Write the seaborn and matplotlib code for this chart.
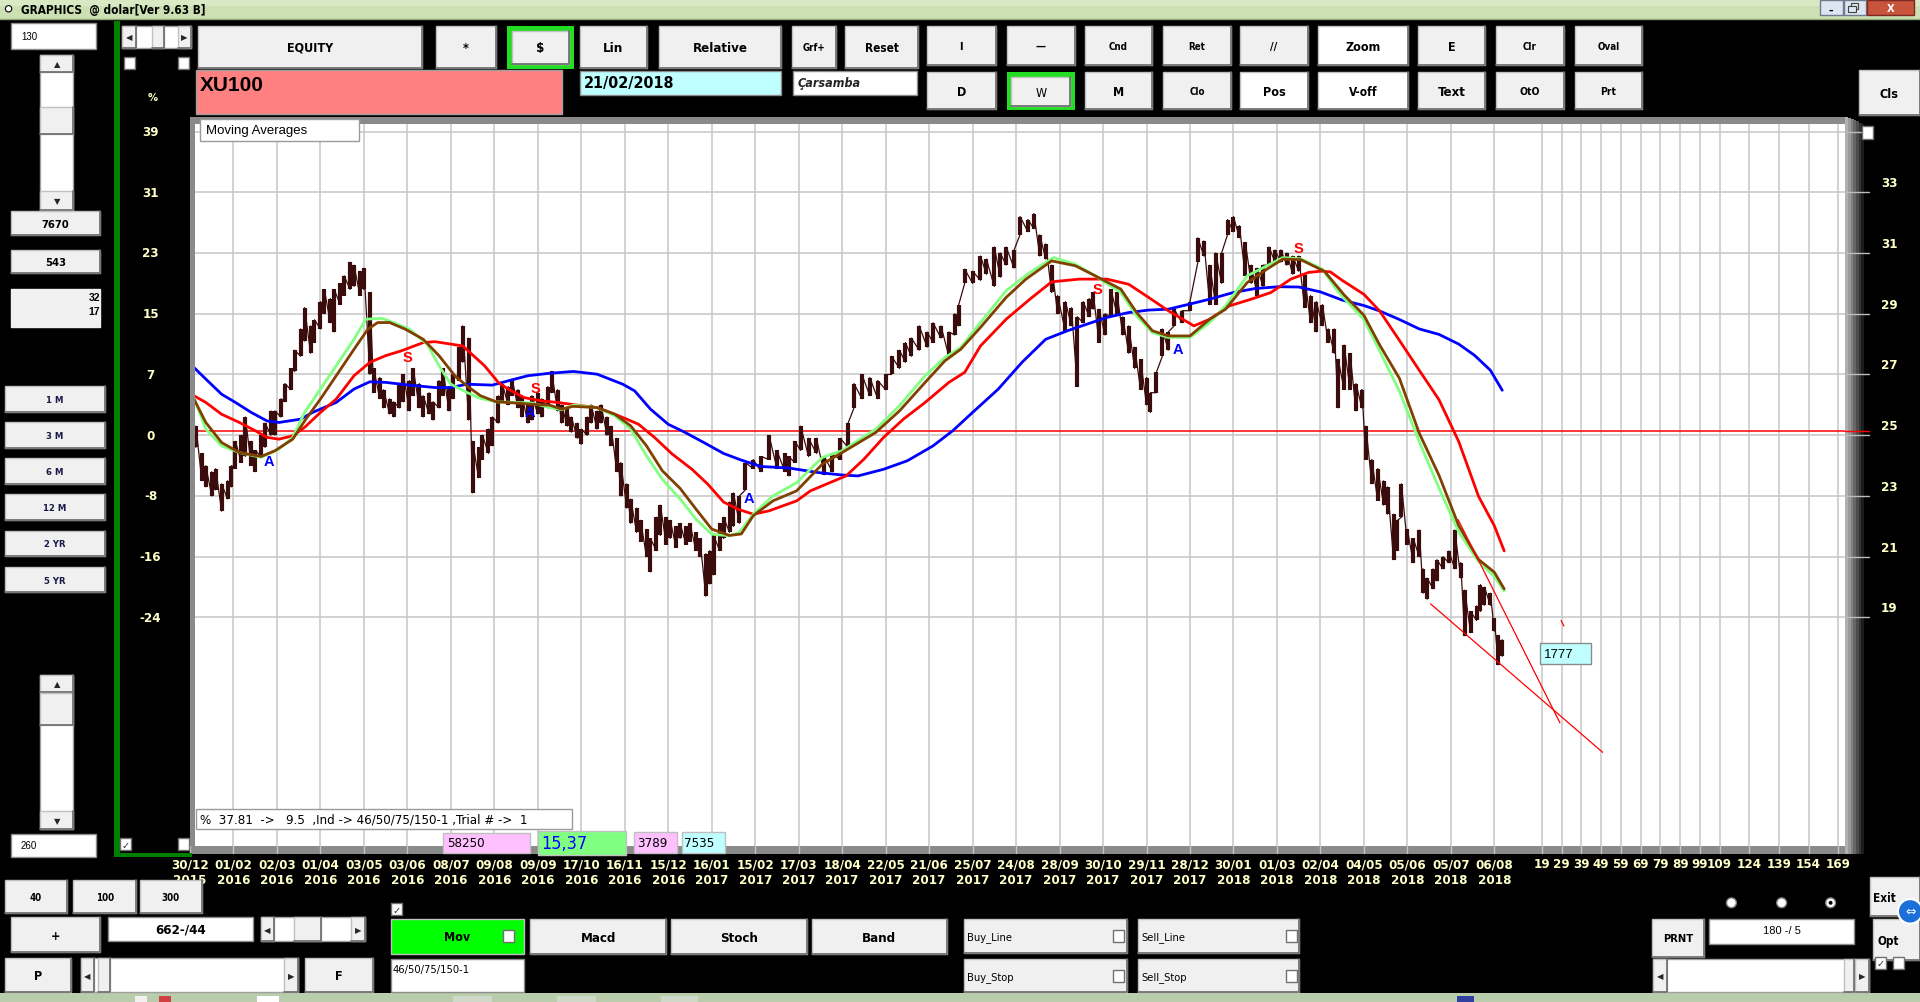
import numpy as np
import pandas as pd
import seaborn as sns
import matplotlib
matplotlib.use("Agg")
import matplotlib.pyplot as plt
from matplotlib.patches import Rectangle, Circle
from matplotlib import font_manager
from matplotlib.transforms import blended_transform_factory

sns.set_style("white")
names = {f.name for f in font_manager.fontManager.ttflist}
if "Liberation Sans Narrow" in names:
    NARROW, STRETCH = "Liberation Sans Narrow", "normal"
else:
    NARROW, STRETCH = "DejaVu Sans", "condensed"
plt.rcParams["font.family"] = ["Liberation Sans", "DejaVu Sans"]

# ---------------- data (bar index = trading day, price in USD units) ----------------
bar_idx = [0, 3, 5, 8, 10, 13, 16, 18, 20, 23, 25, 28, 30, 33, 35, 38, 40, 43, 45, 48,
           50, 53, 55, 58, 60, 63, 65, 68, 70, 73, 75, 78, 80, 83, 85, 88, 90, 93, 95, 98,
           100, 103, 105, 108, 110, 113, 115, 118, 120, 123, 125, 128, 130, 133, 135, 138, 140, 143, 145, 148,
           150, 153, 155, 158, 160, 163, 165, 168, 170, 173, 175, 178, 180, 183, 185, 188, 190, 193, 195, 198,
           200, 203, 205, 208, 210, 213, 215, 218, 220, 223, 225, 228, 230, 233, 235, 238, 240, 243, 245, 248,
           250, 253, 255, 258, 260, 262, 265, 267, 270, 272, 275, 278, 282, 286, 290, 294, 298, 300, 303, 306,
           310, 314, 318, 322, 326, 330, 333, 337, 341, 345, 349, 352, 356, 359, 362, 366, 370, 373, 377, 381,
           384, 386, 389, 393, 397, 400, 404, 407, 410, 414, 417, 421, 424, 427, 430, 433, 436, 440, 443, 446,
           449, 452, 454, 457, 460, 463, 466, 469, 472, 475, 478, 481, 483, 486, 489, 492, 495, 499, 503, 507,
           510, 513, 516, 519, 522, 525, 528, 531, 534, 537, 540, 543, 546, 549, 552, 555, 558, 561, 564, 567,
           570, 573, 576, 578, 581, 584, 587, 590, 592, 595, 598, 601, 603, 606, 608, 610, 613, 616, 619, 621,
           623, 626, 628, 631, 634, 637, 640, 642, 645, 648, 650, 652, 655, 657, 659, 661]
bar_low = [24.6, 23.5, 23.3, 23.0, 23.2, 22.5, 22.9, 23.3, 23.9, 24.1, 24.3, 24.0, 23.8, 24.3, 24.6, 25.0, 25.0, 25.6, 26.1, 26.5,
           27.1, 27.6, 28.1, 27.7, 28.05, 28.5, 29.0, 28.7, 28.4, 29.3, 29.6, 29.8, 29.9, 29.6, 29.8, 27.0, 26.4, 26.2, 25.9, 25.7,
           25.6, 25.9, 26.1, 25.8, 26.3, 25.9, 25.6, 25.7, 25.5, 25.9, 26.3, 25.8, 26.2, 26.8, 27.4, 25.5, 23.1, 23.6, 24.2, 24.4,
           24.65, 25.4, 26.1, 26.0, 26.3, 25.9, 25.6, 25.4, 25.5, 25.7, 25.6, 25.9, 26.4, 25.8, 25.4, 25.3, 25.1, 24.9, 24.7, 25.0,
           25.4, 25.2, 25.4, 25.0, 24.65, 23.8, 23.0, 22.6, 22.1, 21.8, 21.5, 21.0, 20.5, 21.2, 21.7, 21.4, 21.6, 21.3, 21.6, 21.4,
           21.5, 21.2, 21.0, 19.7, 20.1, 20.4, 21.2, 21.6, 21.8, 22.0, 22.1, 23.2, 23.9, 23.8, 24.2, 23.9, 23.8, 23.66, 24.1, 24.5,
           24.3, 24.4, 23.7, 23.8, 24.2, 24.6, 25.9, 26.2, 26.3, 26.2, 26.5, 27.0, 27.2, 27.4, 27.6, 27.8, 27.9, 28.05, 28.2, 27.6,
           28.3, 28.6, 30.0, 30.0, 30.1, 30.3, 29.9, 30.2, 30.6, 30.5, 31.6, 31.7, 31.8, 30.9, 30.8, 29.7, 29.0, 28.4, 28.6, 26.6,
           28.7, 28.9, 29.15, 28.05, 28.3, 28.9, 29.0, 28.3, 27.7, 27.2, 26.5, 26.0, 25.75, 26.4, 27.6, 27.8, 28.6, 28.7, 29.1, 30.7,
           30.9, 29.3, 29.3, 30.0, 31.6, 31.7, 31.5, 30.25, 30.0, 29.6, 29.9, 30.6, 30.7, 30.7, 30.6, 30.3, 30.4, 29.2, 28.7, 28.4,
           28.6, 28.05, 27.7, 25.9, 26.5, 26.5, 25.8, 25.9, 24.2, 23.4, 22.85, 22.7, 22.4, 20.9, 21.2, 22.3, 21.4, 20.8, 21.0, 19.8,
           19.6, 19.94, 20.2, 20.6, 20.8, 20.6, 20.3, 18.4, 18.5, 18.9, 19.2, 19.4, 19.4, 18.55, 17.44, 17.72]
bar_high = [25.3, 24.4, 24.0, 23.8, 23.9, 23.4, 23.5, 24.0, 24.8, 25.0, 25.6, 24.8, 24.5, 25.0, 25.4, 25.8, 25.8, 26.2, 26.7, 27.2,
            27.8, 28.5, 29.2, 28.6, 28.8, 29.4, 29.8, 29.5, 29.8, 30.0, 30.25, 30.7, 30.6, 30.4, 30.5, 29.7, 27.2, 26.9, 26.5, 26.2,
            26.1, 26.7, 27.0, 26.8, 27.2, 26.7, 26.3, 26.4, 26.1, 26.8, 27.2, 26.6, 27.0, 27.9, 28.6, 28.2, 24.8, 24.6, 25.0, 25.2,
            25.6, 26.3, 26.7, 26.6, 26.85, 26.5, 26.3, 26.0, 26.3, 26.4, 26.2, 26.6, 27.1, 26.5, 26.0, 25.9, 25.6, 25.4, 25.2, 25.6,
            26.0, 25.8, 26.0, 25.6, 25.3, 24.9, 24.1, 23.4, 22.9, 22.6, 22.2, 21.9, 21.6, 22.3, 22.7, 22.3, 22.2, 22.0, 22.1, 22.0,
            22.1, 21.8, 21.6, 21.1, 21.2, 21.7, 22.1, 22.3, 22.8, 23.1, 23.0, 24.1, 24.2, 24.3, 25.0, 24.5, 24.4, 24.3, 24.8, 25.3,
            24.9, 24.9, 24.3, 24.4, 24.9, 25.4, 26.7, 27.0, 26.9, 26.8, 27.0, 27.6, 27.8, 28.05, 28.2, 28.6, 28.4, 28.7, 28.6, 28.4,
            29.0, 29.3, 30.47, 30.4, 30.9, 30.8, 31.2, 31.0, 31.2, 31.1, 32.2, 32.1, 32.3, 31.6, 31.3, 30.6, 29.6, 29.4, 29.2, 28.9,
            29.4, 29.5, 29.7, 29.15, 29.0, 29.8, 29.7, 28.9, 28.6, 27.9, 27.5, 26.9, 26.4, 27.07, 28.5, 28.4, 29.15, 29.1, 29.4, 31.5,
            31.4, 30.6, 31.0, 31.0, 32.1, 32.2, 31.9, 31.35, 30.6, 30.5, 30.6, 31.2, 31.1, 31.1, 31.0, 30.9, 30.9, 30.26, 29.6, 29.4,
            29.3, 28.5, 28.5, 27.5, 27.97, 27.7, 26.7, 26.5, 25.3, 24.2, 23.9, 23.5, 23.3, 22.4, 22.2, 23.4, 21.9, 21.6, 21.88, 20.6,
            20.3, 20.6, 20.9, 21.0, 21.19, 21.88, 20.8, 19.9, 19.2, 19.38, 20.08, 20.0, 19.8, 18.97, 18.41, 18.27]

ma46_x = [-1, 5, 13, 22, 33, 42, 49, 55, 63, 71, 80, 86, 94, 100, 108, 117, 123, 129, 137, 144,
          152, 162, 170, 179, 185, 191, 203, 212, 220, 228, 236, 245, 253, 261, 270, 275, 282, 292, 304, 317,
          327, 344, 356, 369, 379, 387, 397, 410, 422, 434, 445, 455, 468, 476, 484, 492, 503, 513, 521, 532,
          542, 550, 559, 570, 577, 581, 591, 599, 609, 619, 629, 639, 649, 657, 662]
ma46_y = [26.24, 25.20, 24.65, 24.43, 24.27, 24.54, 24.93, 25.75, 26.52, 27.29, 28.16, 28.82, 28.85, 28.71, 28.49, 28.0, 27.29, 26.68, 26.41, 26.21,
          26.10, 26.08, 26.06, 25.91, 25.84, 25.99, 25.91, 25.64, 25.20, 24.32, 23.55, 22.9, 22.24, 21.74, 21.69, 21.80, 22.40, 23.0, 23.44, 24.27,
          24.49, 25.20, 25.97, 26.96, 27.56, 27.89, 28.71, 29.76, 30.36, 30.85, 30.63, 30.25, 29.70, 28.93, 28.38, 28.22, 28.22, 28.71, 29.26, 30.25,
          30.58, 30.85, 30.81, 30.47, 29.81, 29.50, 28.81, 27.77, 26.45, 24.79, 23.26, 21.81, 20.84, 20.35, 19.87]

ma50_x = [-1, 5, 13, 22, 33, 40, 49, 55, 63, 71, 80, 87, 92, 98, 106, 115, 123, 131, 137, 144,
          152, 162, 170, 179, 185, 191, 203, 212, 220, 228, 236, 245, 253, 261, 270, 276, 282, 292, 304, 317,
          327, 344, 356, 369, 379, 387, 397, 410, 420, 433, 445, 455, 468, 476, 484, 492, 503, 513, 521, 532,
          542, 550, 559, 571, 581, 591, 599, 609, 619, 629, 639, 649, 657, 662]
ma50_y = [26.19, 25.42, 24.76, 24.43, 24.30, 24.49, 24.87, 25.47, 26.19, 26.96, 27.83, 28.49, 28.71, 28.71, 28.49, 28.16, 27.62, 26.96, 26.63, 26.30,
          26.10, 26.06, 26.02, 25.99, 25.86, 25.95, 25.91, 25.69, 25.31, 24.65, 23.83, 23.25, 22.57, 21.91, 21.70, 21.75, 22.35, 22.84, 23.17, 24.05,
          24.43, 25.09, 25.80, 26.74, 27.45, 27.83, 28.55, 29.54, 30.14, 30.74, 30.58, 30.25, 29.81, 29.04, 28.44, 28.27, 28.27, 28.82, 29.15, 30.03,
          30.47, 30.80, 30.78, 30.40, 29.62, 28.95, 27.97, 26.87, 25.07, 23.68, 22.02, 20.91, 20.49, 19.94]

ma75_x = [-1, 5, 13, 22, 30, 36, 42, 49, 55, 63, 71, 80, 88, 96, 104, 115, 121, 129, 135, 146,
          153, 158, 166, 175, 183, 193, 203, 212, 218, 224, 232, 241, 251, 259, 267, 274, 282, 290, 304, 311,
          323, 329, 338, 348, 358, 369, 381, 389, 397, 410, 422, 433, 447, 461, 472, 482, 492, 505, 513, 523,
          534, 544, 554, 563, 569, 574, 580, 591, 599, 609, 619, 629, 639, 649, 657, 662]
ma75_y = [26.30, 26.08, 25.69, 25.42, 25.15, 24.93, 24.87, 24.98, 25.26, 25.75, 26.19, 26.96, 27.40, 27.62, 27.78, 28.05, 28.08, 28.0, 27.94, 27.29,
          26.74, 26.52, 26.24, 26.13, 26.08, 25.99, 25.91, 25.69, 25.53, 25.36, 24.93, 24.38, 23.88, 23.39, 22.8, 22.57, 22.40, 22.51, 22.84, 23.17,
          23.50, 23.66, 24.21, 24.93, 25.53, 26.08, 26.74, 27.07, 27.94, 28.82, 29.48, 30.05, 30.14, 30.14, 29.97, 29.54, 29.10, 28.60, 28.82, 29.26,
          29.48, 29.70, 30.14, 30.36, 30.40, 30.38, 30.10, 29.64, 29.09, 28.12, 27.14, 26.17, 24.79, 22.99, 22.02, 21.19]

ma150_x = [-1, 5, 13, 20, 28, 36, 42, 53, 59, 71, 80, 88, 96, 108, 121, 129, 137, 150, 158, 168,
           179, 191, 203, 216, 222, 230, 239, 247, 257, 267, 276, 286, 300, 315, 327, 335, 348, 360, 373, 383,
           393, 406, 418, 430, 441, 451, 461, 472, 482, 492, 503, 513, 525, 536, 548, 558, 569, 580, 591, 599,
           609, 619, 629, 639, 647, 655, 661]
ma150_y = [27.23, 26.85, 26.35, 26.08, 25.75, 25.47, 25.42, 25.53, 25.75, 26.08, 26.52, 26.76, 26.74, 26.65, 26.57, 26.57, 26.68, 26.65, 26.79, 26.96,
           27.04, 27.10, 27.01, 26.68, 26.46, 25.86, 25.36, 25.11, 24.76, 24.40, 24.18, 23.97, 23.92, 23.77, 23.69, 23.66, 23.88, 24.16, 24.65, 25.15,
           25.75, 26.52, 27.40, 28.16, 28.44, 28.66, 28.88, 29.04, 29.12, 29.15, 29.32, 29.48, 29.70, 29.83, 29.89, 29.88, 29.72, 29.45, 29.27, 29.09,
           28.81, 28.50, 28.32, 28.00, 27.63, 27.14, 26.48]

signal_bar = [37, 107, 169, 172, 280, 456, 497, 558]
signal_price = [24.15, 27.58, 25.77, 26.57, 22.93, 29.81, 27.83, 31.18]
signal_text = ["A", "S", "A", "S", "A", "S", "A", "S"]

trend1_x, trend1_y = [624.7, 711.8], [19.45, 14.56]
trend2_x, trend2_y = [638.7, 690.2], [22.22, 15.53]
trend3_x, trend3_y = [690.8, 692.2], [18.9, 18.72]
zero_level = 25.15

date_labels = ["30/12\n2015", "01/02\n2016", "02/03\n2016", "01/04\n2016", "03/05\n2016", "03/06\n2016",
               "08/07\n2016", "09/08\n2016", "09/09\n2016", "17/10\n2016", "16/11\n2016", "15/12\n2016",
               "16/01\n2017", "15/02\n2017", "17/03\n2017", "18/04\n2017", "22/05\n2017", "21/06\n2017",
               "25/07\n2017", "24/08\n2017", "28/09\n2017", "30/10\n2017", "29/11\n2017", "28/12\n2017",
               "30/01\n2018", "01/03\n2018", "02/04\n2018", "04/05\n2018", "05/06\n2018", "05/07\n2018",
               "06/08\n2018"]
date_bars = [-3, 19, 41, 63, 85, 107, 129, 151, 173, 195, 217, 239, 261, 283, 305, 327, 349, 371,
             393, 415, 437, 459, 481, 503, 525, 547, 569, 591, 613, 635, 657]
future_labels = ["19", "29", "39", "49", "59", "69", "79", "89", "99", "109", "124", "139", "154", "169"]
future_bars = [681, 691, 701, 711, 721, 731, 741, 751, 761, 771, 786, 801, 816, 831]

grid_prices = [35, 33, 31, 29, 27, 25, 23, 21, 19]
right_labels = ["", "33", "31", "29", "27", "25", "23", "21", "19"]
pct_labels = ["39", "31", "23", "15", "7", "0", "-8", "-16", "-24"]

# ---------------- figure ----------------
W, H = 1568, 819
YEL = "#ffffc8"
PRICE = "#3a0c0c"

fig = plt.figure(figsize=(19.2, 10.03), dpi=100, facecolor="black")
bg = fig.add_axes([0, 0, 1, 1], zorder=0)
bg.set_xlim(0, W); bg.set_ylim(H, 0); bg.axis("off")
bg.add_patch(Rectangle((0, 0), W, H, fc="black", ec="none"))

# plot shadow frame
bg.add_patch(Rectangle((155, 96), 1352, 602, fc="#8a8a8a", ec="none"))
for i, c in enumerate(["#b0b0b0", "#9a9a9a", "#808080", "#666666", "#4c4c4c", "#333333", "#1c1c1c"]):
    bg.add_patch(Rectangle((1507 + i * 2.2, 96 + i), 2.3, 602 - i, fc=c, ec="none"))

ax = fig.add_axes([159 / W, 1 - 691.5 / H, (1507 - 159) / W, (691.5 - 102) / H], zorder=1)
ax.set_facecolor("white")
for s in ax.spines.values():
    s.set_visible(False)
ax.set_xlim(-0.62, 834.6)
ax.set_ylim(11.48, 35.25)
ax.set_xticks([]); ax.set_yticks([])

for b in date_bars[1:] + future_bars:
    ax.axvline(b, color="#c6c6c6", lw=1.1, zorder=0)
for p in grid_prices:
    ax.axhline(p, color="#c6c6c6", lw=1.1, zorder=0)
ax.axhline(zero_level, color="red", lw=1.1, zorder=1)

# price bars
ax.vlines(bar_idx, bar_low, bar_high, color=PRICE, lw=3.0, zorder=2)
zz_x = np.repeat(bar_idx, 2)
zz_y = np.column_stack([bar_low, bar_high]).ravel()
sns.lineplot(x=zz_x, y=zz_y, sort=False, estimator=None, color=PRICE, lw=0.9, ax=ax, zorder=2)

# moving averages
for xs, ys, col in [(ma150_x, ma150_y, "#0000ff"), (ma75_x, ma75_y, "#ff0000"),
                    (ma46_x, ma46_y, "#80ff80"), (ma50_x, ma50_y, "#804000")]:
    sns.lineplot(x=xs, y=ys, color=col, lw=2.0, ax=ax, zorder=3)

for xs, ys in [(trend1_x, trend1_y), (trend2_x, trend2_y), (trend3_x, trend3_y)]:
    sns.lineplot(x=xs, y=ys, color="red", lw=0.9, ax=ax, zorder=3)

for b, p, t in zip(signal_bar, signal_price, signal_text):
    ax.text(b, p, t, color="#0000ff" if t == "A" else "#ff0000", fontsize=10.5, fontweight="bold",
            ha="center", va="center", zorder=4)

# ---------------- overlay UI ----------------
ov = fig.add_axes([0, 0, 1, 1], zorder=2)
ov.set_xlim(0, W); ov.set_ylim(H, 0); ov.axis("off")
ov.patch.set_alpha(0)

def txt(x, y, s, fs=8, bold=True, color="black", ha="center", narrow=True, z=7, **kw):
    ov.text(x, y, s, fontsize=fs, fontweight="bold" if bold else "normal", color=color,
            ha=ha, va="center", family=NARROW if narrow else "Liberation Sans",
            fontstretch=STRETCH if narrow else "normal", zorder=z, **kw)

def box(x0, y0, x1, y1, fc="white", ec="#8c8c8c", z=5):
    ov.add_patch(Rectangle((x0, y0), x1 - x0, y1 - y0, fc=fc, ec=ec, lw=1, zorder=z))

def btn(x0, y0, x1, y1, label="", fs=8, fc="#f0f0f0", color="black", bold=True, ha="center", z=5):
    box(x0, y0, x1, y1, fc=fc, ec="#c0c0c0", z=z)
    ov.plot([x0, x1, x1], [y1, y1, y0], color="#6a6a6a", lw=1.2, zorder=z)
    if label:
        tx = (x0 + x1) / 2 if ha == "center" else x0 + 3
        txt(tx, (y0 + y1) / 2 + 0.5, label, fs=fs, color=color, bold=bold, ha=ha, z=z + 1)

def check(x0, y0, checked=False, z=6):
    box(x0, y0, x0 + 9, y0 + 10, fc="white", ec="#707070", z=z)
    if checked:
        ov.text(x0 + 4.5, y0 + 5.5, "\u2713", fontsize=7, ha="center", va="center",
                family="DejaVu Sans", fontweight="bold", zorder=z + 1)

def arrow_glyph(x, y, g, fs=6):
    ov.text(x, y, g, fontsize=fs, ha="center", va="center", family="DejaVu Sans", zorder=8)

def vscroll(x0, y0, x1, y1, thumb):
    box(x0, y0, x1, y1, fc="white", ec="#a0a0a0")
    btn(x0, y0, x1, y0 + 14)
    arrow_glyph((x0 + x1) / 2, y0 + 7, "\u25b2")
    btn(x0, y1 - 15, x1, y1)
    arrow_glyph((x0 + x1) / 2, y1 - 7.5, "\u25bc")
    btn(x0, thumb[0], x1, thumb[1])

def hscroll(x0, y0, x1, y1, thumb):
    box(x0, y0, x1, y1, fc="white", ec="#a0a0a0")
    btn(x0, y0, x0 + 11, y1)
    arrow_glyph(x0 + 5.5, (y0 + y1) / 2, "\u25c0")
    btn(x1 - 11, y0, x1, y1)
    arrow_glyph(x1 - 5.5, (y0 + y1) / 2, "\u25b6")
    btn(thumb[0], y0, thumb[1], y1)

# title bar
ov.add_patch(Rectangle((0, 0), W, 16, fc="#cce0b4", ec="none", zorder=4))
ov.add_patch(Rectangle((0, 0), W, 6, fc="#d8e9c4", ec="none", zorder=4))
ov.plot([0, W], [16.5, 16.5], color="#8fa878", lw=1, zorder=4)
ov.add_patch(Circle((7, 8), 2.6, fc="white", ec="black", lw=0.8, zorder=5))
txt(17, 8.5, "GRAPHICS  @ dolar[Ver 9.63 B]", fs=8.5, ha="left")
box(1486, 1, 1505, 13, fc="#dde6f0", ec="#6f7a8c")
box(1506, 1, 1524, 13, fc="#dde6f0", ec="#6f7a8c")
box(1525, 1, 1563, 13, fc="#c9543c", ec="#7a2a1e")
txt(1495.5, 9, "\u2013", fs=7)
# restore icon: two small overlapping window frames
ov.add_patch(Rectangle((1511.5, 3.5), 6, 5, fc="none", ec="#404040", lw=0.8, zorder=6))
ov.add_patch(Rectangle((1509.5, 5.5), 6, 5, fc="#dde6f0", ec="#404040", lw=0.8, zorder=7))
txt(1544, 7, "X", fs=8, color="white")

# bottom task strip
ov.add_patch(Rectangle((0, 812), W, 7, fc="#b9ccab", ec="none", zorder=4))
for x0, w, c in [(110, 10, "#f0f0f0"), (130, 10, "#d04040"), (210, 18, "#ffffff"), (370, 32, "#d0d8c8"),
                 (455, 32, "#d0d8c8"), (540, 30, "#d0d8c8"), (1190, 14, "#3040a0")]:
    ov.add_patch(Rectangle((x0, 814), w, 5, fc=c, ec="none", zorder=5))

# left panel
box(9, 20, 78, 41)
txt(17, 30, "130", fs=7, ha="left", bold=False, narrow=False)
vscroll(33, 46, 60, 172, (88, 110))
btn(9, 173, 82, 193, "7670", fs=8)
btn(9, 205, 82, 224, "543", fs=8)
box(9, 237, 82, 268, fc="#f0f0f0", ec="#f0f0f0")
txt(82, 243, "32", fs=7.5, ha="right", narrow=False)
txt(82, 255, "17", fs=7.5, ha="right", narrow=False)
for i, lab in enumerate(["1 M", "3 M", "6 M", "12 M", "2 YR", "5 YR"]):
    y0 = 316 + i * 29.5
    btn(4, y0, 86, y0 + 21, lab, fs=6.8, color="#1a1a48")
vscroll(33, 552, 60, 678, (567, 593))
box(9, 682, 78, 701)
txt(17, 691, "260", fs=7, ha="left", bold=False, narrow=False)

# green frame
ov.add_patch(Rectangle((93, 18), 5, 683, fc="#008000", ec="none", zorder=4))
ov.add_patch(Rectangle((93, 697), 64, 4, fc="#008000", ec="none", zorder=4))
hscroll(100, 22, 156, 40, (124, 134))
check(101, 47); check(145, 47)
check(98, 685, checked=True); check(145, 685)
txt(125, 80, "%", fs=8, color=YEL)

# y labels (left percent, right price)
tr_left = blended_transform_factory(ov.transData, ax.transData)
for p, lab in zip(grid_prices, pct_labels):
    ov.text(123, p, lab, transform=tr_left, fontsize=9.5, color=YEL, fontweight="bold", ha="center",
            va="center", family=NARROW, fontstretch=STRETCH, zorder=7)
for p, lab in zip(grid_prices, right_labels):
    ov.plot([1507, 1526], [p, p], transform=tr_left, color="#bdbdbd", lw=1, zorder=3)
    if lab:
        ov.text(1543, p + 0.1, lab, transform=tr_left, fontsize=9.5, color=YEL, fontweight="bold",
                ha="center", va="bottom", family=NARROW, fontstretch=STRETCH, zorder=7)
ov.plot([1507, 1526], [zero_level, zero_level], transform=tr_left, color="red", lw=1, zorder=3)

# x labels
tr_x = blended_transform_factory(ax.transData, ov.transData)
for b, lab in zip(date_bars + future_bars, date_labels + future_labels):
    ov.plot([b, b], [691.5, 697], transform=tr_x, color="#c6c6c6", lw=1, zorder=3)
    ov.text(b, 701, lab, transform=tr_x, fontsize=9.5, color=YEL, fontweight="bold", ha="center",
            va="top", family=NARROW, fontstretch=STRETCH, linespacing=1.25, zorder=3)

# top button rows
btn(162, 22, 345, 56, "EQUITY", fs=9)
btn(356, 22, 405, 56, "*", fs=9)
ov.add_patch(Rectangle((414, 22), 55, 35, fc="#22dd22", ec="none", zorder=5))
btn(418, 26, 465, 53, "$", fs=9.5, z=6)
btn(474, 22, 528, 56, "Lin", fs=9.5)
btn(538, 22, 638, 56, "Relative", fs=9.5)
btn(647, 22, 683, 56, "Grf+", fs=7)
btn(690, 22, 750, 56, "Reset", fs=8.5)
for x0, x1, lab, fs, fc in [(757, 813, "I", 8, "#f0f0f0"), (822, 878, "\u2014", 8, "#f0f0f0"),
                            (886, 941, "Cnd", 7, "#f0f0f0"), (950, 1005, "Ret", 7, "#f0f0f0"),
                            (1013, 1068, "//", 8, "#f0f0f0"), (1076, 1150, "Zoom", 9, "#ffffff"),
                            (1158, 1213, "E", 9, "#f0f0f0"), (1222, 1277, "Clr", 7, "#f0f0f0"),
                            (1286, 1341, "Oval", 7, "#f0f0f0")]:
    btn(x0, 22, x1, 54, lab, fs=fs, fc=fc)
ov.add_patch(Rectangle((160, 58), 299, 36, fc="#ff8080", ec="#a0a0a0", lw=1, zorder=5))
txt(163, 70, "XU100", fs=15, ha="left", narrow=False)
box(474, 59, 638, 78, fc="#c0ffff")
txt(477, 68.5, "21/02/2018", fs=11.5, ha="left")
box(648, 59, 749, 78, fc="white")
ov.text(651, 68.5, "\u00c7arsamba", fontsize=9, style="italic", fontweight="bold", ha="left", va="center",
        family=NARROW, fontstretch=STRETCH, zorder=7)
btn(757, 60, 813, 90, "D", fs=9)
ov.add_patch(Rectangle((822, 60), 56, 31, fc="#22dd22", ec="none", zorder=5))
btn(826, 64, 874, 87, "W", fs=9, bold=False, z=6)
for x0, x1, lab, fs, fc in [(886, 941, "M", 9, "#f0f0f0"), (950, 1005, "Clo", 7, "#f0f0f0"),
                            (1013, 1068, "Pos", 9, "#ffffff"), (1076, 1150, "V-off", 8.5, "#ffffff"),
                            (1158, 1213, "Text", 9.5, "#f0f0f0"), (1222, 1277, "OtO", 7.5, "#f0f0f0"),
                            (1286, 1341, "Prt", 7.5, "#f0f0f0")]:
    btn(x0, 60, x1, 90, lab, fs=fs, fc=fc)
btn(1518, 58, 1568, 95, "Cls", fs=9)
check(1521, 104)

# boxes over the chart
box(163, 98, 293, 116, fc="white", ec="#9a9a9a")
txt(168, 107, "Moving Averages", fs=9.5, ha="left", bold=False, narrow=False)
box(160, 661, 467, 678, fc="white", ec="#9a9a9a")
txt(163, 669.5, "%  37.81  ->   9.5  ,Ind -> 46/50/75/150-1 ,Trial # ->  1", fs=9.5, ha="left", bold=False)
box(362, 681, 433, 697, fc="#ffc0ff", ec="#c0c0c0")
txt(365, 689, "58250", fs=9.5, ha="left", bold=False)
box(439, 679, 511, 699, fc="#80ff80", ec="#c0c0c0")
txt(442, 689, "15,37", fs=13, ha="left", bold=False, color="#0000ff")
box(518, 680, 553, 697, fc="#ffc0ff", ec="#c0c0c0")
txt(520, 688.5, "3789", fs=9.5, ha="left", bold=False)
box(557, 680, 592, 697, fc="#c0ffff", ec="#c0c0c0")
txt(559, 688.5, "7535", fs=9.5, ha="left", bold=False)
box(1258, 526, 1299, 543, fc="#c0ffff", ec="#8c8c8c")
txt(1261, 534.5, "1777", fs=9.5, ha="left", bold=False, narrow=False)

# bottom buttons
btn(4, 719, 55, 746, "40", fs=7)
btn(60, 719, 111, 746, "100", fs=7)
btn(114, 719, 165, 746, "300", fs=7)
btn(9, 750, 82, 778, "+", fs=9)
box(88, 750, 207, 769)
txt(147.5, 759.5, "662-/44", fs=9.5)
hscroll(213, 750, 298, 769, (240, 262))
btn(4, 783, 58, 811, "P", fs=9)
hscroll(66, 783, 243, 811, (80, 90))
btn(249, 783, 305, 811, "F", fs=9)
check(319, 738, checked=True)
box(319, 751, 428, 780, fc="#00ff00", ec="#c0c0c0")
txt(373, 765.5, "Mov", fs=9)
check(411, 760)
btn(433, 751, 544, 780, "Macd", fs=9.5)
btn(548, 751, 659, 780, "Stoch", fs=9.5)
btn(663, 751, 773, 780, "Band", fs=9.5)
box(319, 784, 428, 811)
txt(321, 792, "46/50/75/150-1", fs=8, ha="left", bold=False)
for x0, x1, y0, y1, lab in [(787, 920, 751, 779, "Buy_Line"), (929, 1061, 751, 779, "Sell_Line"),
                            (787, 920, 784, 811, "Buy_Stop"), (929, 1061, 784, 811, "Sell_Stop")]:
    btn(x0, y0, x1, y1, lab, fs=8, ha="left", bold=False)
    check(x1 - 11, (y0 + y1) / 2 - 5)
for cx, on in [(1414, False), (1455, False), (1495, True)]:
    ov.add_patch(Circle((cx, 738), 4, fc="white", ec="#808080", lw=1, zorder=6))
    if on:
        ov.add_patch(Circle((cx, 738), 1.6, fc="black", ec="none", zorder=7))
btn(1527, 717, 1568, 749, "Exit", fs=8.5, ha="left")
btn(1349, 751, 1392, 782, "PRNT", fs=8)
box(1396, 751, 1514, 772)
txt(1455, 760.5, "180 -/ 5", fs=8, bold=False, narrow=False)
btn(1530, 751, 1568, 785, "Opt", fs=8.5, ha="left")
ov.add_patch(Circle((1560, 745), 10, fc="#1c6fd8", ec="white", lw=1.5, zorder=9))
ov.text(1560, 745, "\u21d4", fontsize=9, color="white", ha="center", va="center",
        family="DejaVu Sans", zorder=10)
hscroll(1350, 784, 1526, 811, (1506, 1514))
check(1531, 782, checked=True); check(1546, 782)

fig.savefig("out.png", dpi=100, facecolor="black")
